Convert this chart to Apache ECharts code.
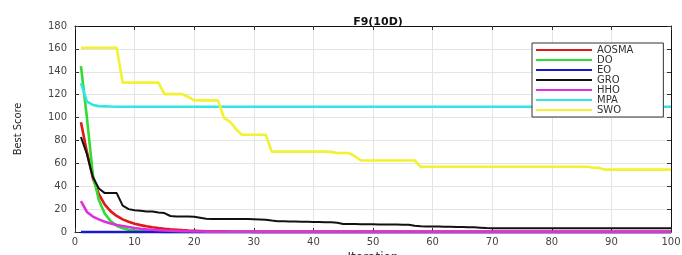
<!DOCTYPE html>
<html>
<head>
<meta charset="utf-8">
<script src="https://cdn.jsdelivr.net/npm/echarts@6/dist/echarts.min.js"></script>
<style>
    html, body { margin: 0; padding: 0; background: #fff; }
    #chart { width: 682px; height: 255px; }
</style>
</head>
<body>
<div id="chart"></div>
<script>
/**
 * 迭代次数 1..100
 */
const iterations = [
    1, 2, 3, 4, 5, 6, 7, 8, 9, 10, 11, 12, 13, 14, 15, 16, 17, 18, 19, 20,
    21, 22, 23, 24, 25, 26, 27, 28, 29, 30, 31, 32, 33, 34, 35, 36, 37, 38, 39, 40,
    41, 42, 43, 44, 45, 46, 47, 48, 49, 50, 51, 52, 53, 54, 55, 56, 57, 58, 59, 60,
    61, 62, 63, 64, 65, 66, 67, 68, 69, 70, 71, 72, 73, 74, 75, 76, 77, 78, 79, 80,
    81, 82, 83, 84, 85, 86, 87, 88, 89, 90, 91, 92, 93, 94, 95, 96, 97, 98, 99, 100
];

const seriesNames = ['AOSMA', 'DO', 'EO', 'GRO', 'HHO', 'MPA', 'SWO'];
const seriesColors = ['#e01818', '#2fdc2f', '#1a1acc', '#111111', '#e02ee0', '#33e6e6', '#f2f230'];

const aosma = [
    96, 70, 47, 33, 24, 18, 14, 11, 9, 7.3, 6, 5, 4.2, 3.5, 2.9, 2.4, 2, 1.6, 1.3, 1.1,
    0.9, 0.7, 0.6, 0.5, 0.4, 0.3, 0.25, 0.2, 0.16, 0.13, 0.1, 0.1, 0.1, 0.1, 0.1, 0.1, 0.1, 0.1, 0.1, 0.1,
    0.1, 0.1, 0.1, 0.1, 0.1, 0.1, 0.1, 0.1, 0.1, 0.1, 0.1, 0.1, 0.1, 0.1, 0.1, 0.1, 0.1, 0.1, 0.1, 0.1,
    0.1, 0.1, 0.1, 0.1, 0.1, 0.1, 0.1, 0.1, 0.1, 0.1, 0.1, 0.1, 0.1, 0.1, 0.1, 0.1, 0.1, 0.1, 0.1, 0.1,
    0.1, 0.1, 0.1, 0.1, 0.1, 0.1, 0.1, 0.1, 0.1, 0.1, 0.1, 0.1, 0.1, 0.1, 0.1, 0.1, 0.1, 0.1, 0.1, 0.1
];

const dO = [
    145, 100, 50, 28, 16, 9.5, 5.5, 3.3, 2, 1.2, 0.8, 0.5, 0.3, 0.2, 0.12, 0.08, 0.05, 0.03, 0.02, 0.01,
    0, 0, 0, 0, 0, 0, 0, 0, 0, 0, 0, 0, 0, 0, 0, 0, 0, 0, 0, 0,
    0, 0, 0, 0, 0, 0, 0, 0, 0, 0, 0, 0, 0, 0, 0, 0, 0, 0, 0, 0,
    0, 0, 0, 0, 0, 0, 0, 0, 0, 0, 0, 0, 0, 0, 0, 0, 0, 0, 0, 0,
    0, 0, 0, 0, 0, 0, 0, 0, 0, 0, 0, 0, 0, 0, 0, 0, 0, 0, 0, 0
];

const eo = [
    0, 0, 0, 0, 0, 0, 0, 0, 0, 0, 0, 0, 0, 0, 0, 0, 0, 0, 0, 0,
    0, 0, 0, 0, 0, 0, 0, 0, 0, 0, 0, 0, 0, 0, 0, 0, 0, 0, 0, 0,
    0, 0, 0, 0, 0, 0, 0, 0, 0, 0, 0, 0, 0, 0, 0, 0, 0, 0, 0, 0,
    0, 0, 0, 0, 0, 0, 0, 0, 0, 0, 0, 0, 0, 0, 0, 0, 0, 0, 0, 0,
    0, 0, 0, 0, 0, 0, 0, 0, 0, 0, 0, 0, 0, 0, 0, 0, 0, 0, 0, 0
];

const gro = [
    83, 68, 48, 38, 34, 34, 34, 23, 20, 19, 18.5, 18, 18, 17, 16.5, 14, 13.5, 13.5, 13.5, 13.4,
    12.5, 11.5, 11.3, 11.3, 11.3, 11.3, 11.3, 11.3, 11.3, 11.2, 11, 10.8, 10, 9.4, 9.3, 9.2, 9.1, 9, 8.9, 8.8,
    8.7, 8.6, 8.5, 8, 7, 7, 6.9, 6.8, 6.7, 6.7, 6.6, 6.6, 6.5, 6.5, 6.4, 6.4, 5.5, 5, 4.9, 4.8,
    4.7, 4.6, 4.5, 4.4, 4.3, 4.2, 4.1, 3.8, 3.4, 3.2, 3.2, 3.2, 3.2, 3.2, 3.2, 3.2, 3.2, 3.2, 3.2, 3.2,
    3.2, 3.2, 3.2, 3.2, 3.2, 3.2, 3.2, 3.2, 3.2, 3.2, 3.2, 3.2, 3.2, 3.2, 3.2, 3.2, 3.2, 3.2, 3.2, 3.2
];

const hho = [
    27, 17.5, 13.5, 11, 9, 7.5, 6.2, 5.2, 4.3, 3.5, 2.8, 2.3, 1.9, 1.6, 1.3, 1.1, 0.9, 0.75, 0.6, 0.5,
    0.42, 0.35, 0.3, 0.25, 0.2, 0.2, 0.2, 0.2, 0.2, 0.2, 0.2, 0.2, 0.2, 0.2, 0.2, 0.2, 0.2, 0.2, 0.2, 0.2,
    0.2, 0.2, 0.2, 0.2, 0.2, 0.2, 0.2, 0.2, 0.2, 0.2, 0.2, 0.2, 0.2, 0.2, 0.2, 0.2, 0.2, 0.2, 0.2, 0.2,
    0.2, 0.2, 0.2, 0.2, 0.2, 0.2, 0.2, 0.2, 0.2, 0.2, 0.2, 0.2, 0.2, 0.2, 0.2, 0.2, 0.2, 0.2, 0.2, 0.2,
    0.2, 0.2, 0.2, 0.2, 0.2, 0.2, 0.2, 0.2, 0.2, 0.2, 0.2, 0.2, 0.2, 0.2, 0.2, 0.2, 0.2, 0.2, 0.2, 0.2
];

const mpa = [
    130, 114, 111, 110, 109.8, 109.6, 109.5, 109.5, 109.5, 109.5, 109.5, 109.5, 109.5, 109.5, 109.5, 109.5, 109.5, 109.5, 109.5, 109.5,
    109.5, 109.5, 109.5, 109.5, 109.5, 109.5, 109.5, 109.5, 109.5, 109.5, 109.5, 109.5, 109.5, 109.5, 109.5, 109.5, 109.5, 109.5, 109.5, 109.5,
    109.5, 109.5, 109.5, 109.5, 109.5, 109.5, 109.5, 109.5, 109.5, 109.5, 109.5, 109.5, 109.5, 109.5, 109.5, 109.5, 109.5, 109.5, 109.5, 109.5,
    109.5, 109.5, 109.5, 109.5, 109.5, 109.5, 109.5, 109.5, 109.5, 109.5, 109.5, 109.5, 109.5, 109.5, 109.5, 109.5, 109.5, 109.5, 109.5, 109.5,
    109.5, 109.5, 109.5, 109.5, 109.5, 109.5, 109.5, 109.5, 109.5, 109.5, 109.5, 109.5, 109.5, 109.5, 109.5, 109.5, 109.5, 109.5, 109.5, 109.5
];

const swo = [
    161, 161, 161, 161, 161, 161, 161, 130.5, 130.5, 130.5, 130.5, 130.5, 130.5, 130.5, 120.5, 120.5, 120.5, 120.5, 118, 115,
    115, 115, 115, 115, 99.6, 96.5, 90, 85, 85, 85, 85, 85, 70.2, 70.2, 70.2, 70.2, 70.2, 70.2, 70.2, 70.2,
    70.2, 70.2, 70, 69, 69, 69, 66, 62.5, 62.5, 62.5, 62.5, 62.5, 62.5, 62.5, 62.5, 62.5, 62.5, 57, 57, 57,
    57, 57, 57, 57, 57, 57, 57, 57, 57, 57, 57, 57, 57, 57, 57, 57, 57, 57, 57, 57,
    57, 57, 57, 57, 57, 57, 56.2, 56, 54.5, 54.5, 54.5, 54.5, 54.5, 54.5, 54.5, 54.5, 54.5, 54.5, 54.5, 54.5
];

const seriesValues = [aosma, dO, eo, gro, hho, mpa, swo];

const xTicks = { min: 0, max: 100, interval: 10 };
const yTicks = { min: 0, max: 180, interval: 20 };

const sansFont = "'DejaVu Sans', 'Liberation Sans', sans-serif";
const narrowFont = "'DejaVu Sans Condensed', 'Liberation Sans', 'Roboto', sans-serif";
const labelFont = { fontFamily: sansFont, fontSize: 10, color: '#444' };

function frameAxis(position, ticks, gridLines) {
    return {
        type: 'value',
        position: position,
        min: ticks.min,
        max: ticks.max,
        interval: ticks.interval,
        axisLine: { show: true, onZero: false, lineStyle: { color: '#111', width: 1 } },
        axisTick: { show: true, inside: true, length: 4, lineStyle: { color: '#333' } },
        axisLabel: { show: false },
        splitLine: { show: gridLines, lineStyle: { color: '#e4e4e4', width: 1 } }
    };
}

const xBottom = frameAxis('bottom', xTicks, true);
xBottom.axisLabel = Object.assign({ show: true, margin: 5 }, labelFont);
xBottom.name = 'Iteration';
xBottom.nameLocation = 'middle';
xBottom.nameGap = 11;
xBottom.nameTextStyle = { fontFamily: sansFont, fontSize: 12, color: '#333' };

const yLeft = frameAxis('left', yTicks, true);
yLeft.axisLabel = Object.assign({ show: true, margin: 8 }, labelFont);
yLeft.name = 'Best Score';
yLeft.nameLocation = 'middle';
yLeft.nameGap = 51;
yLeft.nameTextStyle = { fontFamily: narrowFont, fontSize: 11, color: '#222' };

const chart = echarts.init(document.getElementById('chart'), null, { renderer: 'canvas' });

chart.setOption({
    animation: false,
    backgroundColor: '#fff',
    title: {
        text: 'F9(10D)',
        left: 373,
        top: 12,
        textAlign: 'center',
        textStyle: { fontFamily: sansFont, fontSize: 11, fontWeight: 'bold', color: '#111' }
    },
    grid: { left: 75, right: 11, top: 26, bottom: 23, containLabel: false, outerBoundsMode: 'none' },
    xAxis: [xBottom, frameAxis('top', xTicks, false)],
    yAxis: [yLeft, frameAxis('right', yTicks, false)],
    legend: {
        orient: 'vertical',
        left: 532,
        top: 43,
        itemWidth: 56,
        itemHeight: 8,
        itemGap: 0,
        padding: [2, 30, 2, 4],
        backgroundColor: '#fff',
        borderColor: '#333',
        borderWidth: 1,
        borderRadius: 0,
        textStyle: { fontFamily: sansFont, fontSize: 10, color: '#333', lineHeight: 10, height: 10 },
        data: seriesNames.map(function (name) {
            return { name: name, icon: 'path://M0,0 L56,0 L56,2.2 L0,2.2 Z' };
        })
    },
    series: seriesNames.map(function (name, i) {
        return {
            name: name,
            type: 'line',
            symbol: 'none',
            clip: false,
            color: seriesColors[i],
            lineStyle: { width: name === 'GRO' ? 2 : 2.6, color: seriesColors[i] },
            data: iterations.map(function (x, k) {
                return [x, seriesValues[i][k]];
            })
        };
    })
});
</script>
</body>
</html>
